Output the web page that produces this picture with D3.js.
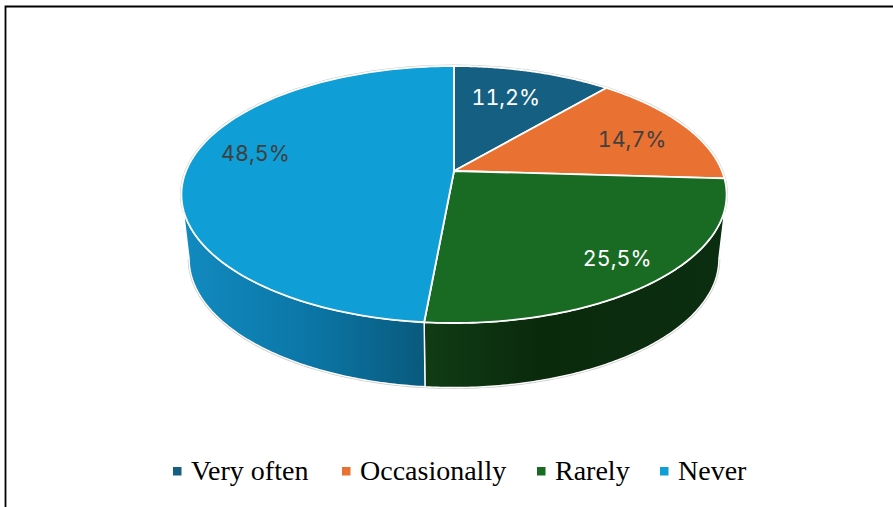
<!DOCTYPE html>
<html><head><meta charset="utf-8">
<script src="https://cdn.jsdelivr.net/npm/d3@7/dist/d3.min.js"></script>
<style>html,body{margin:0;padding:0;background:#fff}svg{display:block}</style>
</head><body><svg id="c" width="893" height="507"></svg>
<script>
const categories = ["Very often", "Occasionally", "Rarely", "Never"];
const values = [11.2, 14.7, 25.5, 48.5];
const valueLabels = ["11,2%", "14,7%", "25,5%", "48,5%"];
const colors = ["#156082", "#E97132", "#196B24", "#0F9ED5"];
const labelColors = ["#ffffff", "#404040", "#ffffff", "#404040"];

// layout
const tilt = 0.183;
const topDisc = {cx: 454, cy: 171, rx: 268, ry: 124.2};
const baseDisc = {cx: 454, cy: 235.5, rx: 260.4, ry: 124.2};
const labelRadius = [0.66, 0.76, 0.84, 0.75];
const labelNudge = [[-3, -5], [0.5, 3], [-3, -2], [1, -14]];
const legendMarkerX = [173, 342, 537, 660];
const horizon = Math.PI / 2 + Math.asin(tilt);
const TAU = Math.PI * 2;

const svg = d3.select("#c");
const project = (disc, t, r = 1) => {
  const x = r * Math.sin(t), y = -r * Math.cos(t), w = 1 - tilt * y;
  return [disc.cx + disc.rx * x / w, disc.cy + disc.ry * y / w];
};
const line = d3.line();
const arcPts = (disc, a, b) => d3.range(0, 121).map(i => project(disc, a + (b - a) * i / 120));

const slices = d3.pie().sort(null).value(d => d)(values);

// frame
svg.append("path").attr("d", "M893,6.5H5.5V507").attr("fill", "none").attr("stroke", "#000").attr("stroke-width", 1.8);

const defs = svg.append("defs");
const sideStops = {
  2: [[424, "#103c14"], [540, "#0a2a0c"], [720, "#0c2e10"]],
  3: [[186, "#128abf"], [310, "#0b76a6"], [424, "#095a7d"]]
};
Object.entries(sideStops).forEach(([i, stops]) => {
  const g = defs.append("linearGradient").attr("id", "side" + i)
    .attr("gradientUnits", "userSpaceOnUse")
    .attr("x1", stops[0][0]).attr("x2", stops[stops.length - 1][0]).attr("y1", 0).attr("y2", 0);
  stops.forEach(s => g.append("stop").attr("offset", (s[0] - stops[0][0]) / (stops[stops.length - 1][0] - stops[0][0])).attr("stop-color", s[1]));
});

// soft grey rim
const rim = arcPts(topDisc, 0, TAU);
svg.append("path").attr("d", line(rim) + "Z").attr("fill", "none").attr("stroke", "#c8c8c8").attr("stroke-width", 2.8);
const hullRim = arcPts(baseDisc, horizon, TAU - horizon);
svg.append("path").attr("d", line(hullRim)).attr("fill", "none").attr("stroke", "#c8c8c8").attr("stroke-width", 2.8);

// side walls
slices.forEach((s, i) => {
  const a = Math.max(s.startAngle, horizon), b = Math.min(s.endAngle, TAU - horizon);
  if (b <= a) return;
  const pts = arcPts(topDisc, a, b).concat(arcPts(baseDisc, a, b).reverse());
  svg.append("path").attr("d", line(pts) + "Z").attr("fill", `url(#side${i})`)
    .attr("stroke", "#fff").attr("stroke-width", 1.4).attr("stroke-linejoin", "round");
});

// top face
slices.forEach((s, i) => {
  const pts = [[topDisc.cx, topDisc.cy]].concat(arcPts(topDisc, s.startAngle, s.endAngle));
  svg.append("path").attr("d", line(pts) + "Z").attr("fill", colors[i])
    .attr("stroke", "#fff").attr("stroke-width", 1.8).attr("stroke-linejoin", "round");
});

// value labels
slices.forEach((s, i) => {
  const p = project(topDisc, (s.startAngle + s.endAngle) / 2, labelRadius[i]);
  svg.append("text").attr("x", p[0] + labelNudge[i][0]).attr("y", p[1] + labelNudge[i][1])
    .attr("text-anchor", "middle").attr("dominant-baseline", "central")
    .attr("font-family", "Inter, sans-serif").attr("font-size", 21.5)
    .style("font-variant-numeric", "tabular-nums")
    .attr("fill", labelColors[i]).text(valueLabels[i]);
});

// legend
categories.forEach((c, i) => {
  svg.append("rect").attr("x", legendMarkerX[i]).attr("y", 467).attr("width", 8.5).attr("height", 8.5).attr("fill", colors[i]);
  svg.append("text").attr("x", legendMarkerX[i] + 18).attr("y", 480)
    .attr("font-family", "'Liberation Serif', serif").attr("font-size", 28).attr("fill", "#000").text(c);
});
</script></body></html>
